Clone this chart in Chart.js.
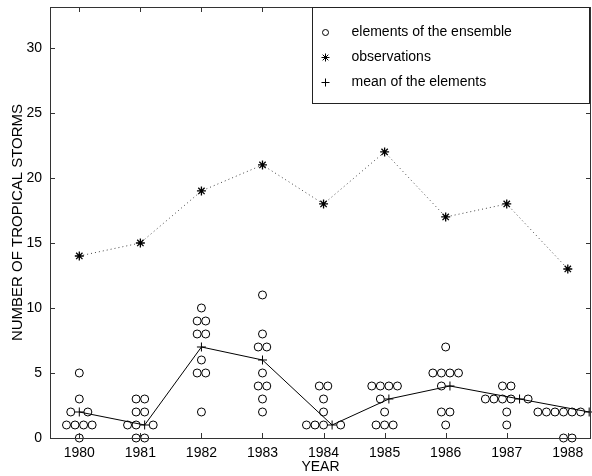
<!DOCTYPE html>
<html>
<head>
<meta charset="utf-8">
<script src="https://cdn.jsdelivr.net/npm/chart.js@4/dist/chart.umd.min.js"></script>
<style>
    html, body { margin: 0; padding: 0; background: #fff; }
</style>
</head>
<body>
<canvas id="chart" width="592" height="476"></canvas>
<script>
const years = [1980, 1981, 1982, 1983, 1984, 1985, 1986, 1987, 1988];
const observations = [14, 15, 19, 21, 18, 22, 17, 18, 13];
const means = [2, 1, 7, 6, 1, 3, 4, 3, 2];
// ensemble members for each year, same order as years
const elements = [
    [5, 3, 2, 2, 1, 1, 1, 1, 0],
    [3, 3, 2, 2, 1, 1, 1, 0, 0],
    [10, 9, 9, 8, 8, 6, 5, 5, 2],
    [11, 8, 7, 7, 5, 4, 4, 3, 2],
    [4, 4, 3, 2, 1, 1, 1, 1],
    [4, 4, 4, 4, 3, 2, 1, 1, 1],
    [7, 5, 5, 5, 5, 4, 2, 2, 1],
    [4, 4, 3, 3, 3, 3, 3, 2, 1],
    [2, 2, 2, 2, 2, 2, 2, 0, 0]
];
const yTicks = [0, 5, 10, 15, 20, 25, 30];
const legendLabels = ['elements of the ensemble', 'observations', 'mean of the elements'];

const FONT = 'Liberation Sans, Arial, Helvetica, sans-serif';
const step = 0.14; // horizontal spread of equal values, in years

// equal values of one year are put side by side, the mean sits in that row too
const circlePoints = [];
const meanPoints = [];
years.forEach(function (year, i) {
    const rows = {};
    elements[i].forEach(function (v) { rows[v] = (rows[v] || 0) + 1; });
    if (rows[means[i]] === undefined) rows[means[i]] = 0;
    Object.keys(rows).forEach(function (key) {
        const v = Number(key);
        const n = rows[key];
        const hasMean = v === means[i];
        const total = n + (hasMean ? 1 : 0);
        const plusAt = hasMean ? Math.max(Math.min(1, n), n - 1) : -1;
        for (let k = 0; k < total; k++) {
            const x = year + (k - (total - 1) / 2) * step;
            if (k === plusAt) meanPoints.push({ x: x, y: v });
            else circlePoints.push({ x: x, y: v });
        }
    });
});

const framePlugin = {
    id: 'frame',
    afterDraw(chart) {
        const ctx = chart.ctx;
        const a = chart.chartArea;
        const xs = chart.scales.x;
        const ys = chart.scales.y;
        const len = 5;
        ctx.save();
        ctx.strokeStyle = '#333';
        ctx.lineWidth = 1;
        ctx.strokeRect(a.left + 0.5, a.top + 0.5, a.right - a.left - 1, a.bottom - a.top);
        ctx.beginPath();
        years.forEach(function (yr) {
            const px = Math.round(xs.getPixelForValue(yr)) + 0.5;
            ctx.moveTo(px, a.bottom);
            ctx.lineTo(px, a.bottom - len);
            ctx.moveTo(px, a.top);
            ctx.lineTo(px, a.top + len);
        });
        yTicks.forEach(function (v) {
            const py = Math.round(ys.getPixelForValue(v)) + 0.5;
            ctx.moveTo(a.left, py);
            ctx.lineTo(a.left + len, py);
            ctx.moveTo(a.right, py);
            ctx.lineTo(a.right - len, py);
        });
        ctx.stroke();

        // legend box in the upper right corner
        const bx = a.right - 278.5;
        const by = a.top + 0.5;
        const bw = 277;
        const bh = 96;
        ctx.fillStyle = '#fff';
        ctx.fillRect(bx, by, bw, bh);
        ctx.strokeStyle = '#222';
        ctx.strokeRect(bx, by, bw, bh);
        const styles = ['circle', 'star', 'cross'];
        const radii = [3, 4, 4];
        ctx.font = '14px ' + FONT;
        ctx.textBaseline = 'middle';
        legendLabels.forEach(function (label, i) {
            const ly = by + 25 + i * 25;
            ctx.strokeStyle = '#000';
            ctx.fillStyle = 'rgba(0,0,0,0)';
            Chart.helpers.drawPoint(ctx, { pointStyle: styles[i], radius: radii[i], borderWidth: 1, rotation: 0 }, bx + 13, ly);
            ctx.fillStyle = '#000';
            ctx.fillText(label, bx + 39, ly);
        });
        ctx.restore();
    }
};

const ctx = document.getElementById('chart').getContext('2d');
new Chart(ctx, {
    type: 'scatter',
    data: {
        datasets: [{
            label: legendLabels[0],
            data: circlePoints,
            showLine: false,
            pointStyle: 'circle',
            pointRadius: 4,
            pointBorderWidth: 1,
            pointBorderColor: '#000',
            pointBackgroundColor: 'rgba(0,0,0,0)',
            clip: false
        }, {
            label: legendLabels[2],
            data: meanPoints,
            showLine: true,
            borderColor: '#000',
            borderWidth: 1,
            pointStyle: 'cross',
            pointRadius: 4.5,
            pointBorderWidth: 1,
            pointBorderColor: '#000',
            clip: false
        }, {
            label: legendLabels[1],
            data: observations.map(function (v, i) { return { x: years[i], y: v }; }),
            showLine: true,
            borderColor: '#444',
            borderWidth: 1,
            borderDash: [1, 3],
            pointStyle: 'star',
            pointRadius: 4.5,
            pointBorderWidth: 1.3,
            pointBorderColor: '#000',
            clip: false
        }]
    },
    options: {
        responsive: false,
        animation: false,
        layout: { autoPadding: false, padding: { top: 7, right: 1, left: 0, bottom: 0 } },
        plugins: {
            legend: { display: false },
            tooltip: { enabled: false }
        },
        scales: {
            x: {
                type: 'linear',
                min: 1979.52,
                max: 1988.38,
                afterBuildTicks: function (scale) { scale.ticks = years.map(function (v) { return { value: v }; }); },
                afterFit: function (scale) {
                    scale.height = 38;
                    scale.paddingLeft = 0;
                    scale.paddingRight = 0;
                },
                grid: { display: false, drawTicks: false },
                border: { display: false },
                ticks: {
                    padding: 7,
                    color: '#000',
                    font: { family: FONT, size: 14 },
                    callback: function (v) { return String(v); }
                },
                title: {
                    display: true,
                    text: 'YEAR',
                    color: '#000',
                    font: { family: FONT, size: 14 },
                    padding: { top: 0, bottom: 0 }
                }
            },
            y: {
                min: 0,
                max: 33.15,
                afterBuildTicks: function (scale) { scale.ticks = yTicks.map(function (v) { return { value: v }; }); },
                afterFit: function (scale) {
                    scale.width = 50;
                    scale.paddingTop = 0;
                    scale.paddingBottom = 0;
                },
                grid: { display: false, drawTicks: false },
                border: { display: false },
                ticks: {
                    padding: 8,
                    color: '#000',
                    font: { family: FONT, size: 14 }
                },
                title: {
                    display: true,
                    text: 'NUMBER OF TROPICAL STORMS',
                    color: '#000',
                    font: { family: FONT, size: 15 },
                    padding: { top: 9, bottom: 0 }
                }
            }
        }
    },
    plugins: [framePlugin]
});
</script>
</body>
</html>
